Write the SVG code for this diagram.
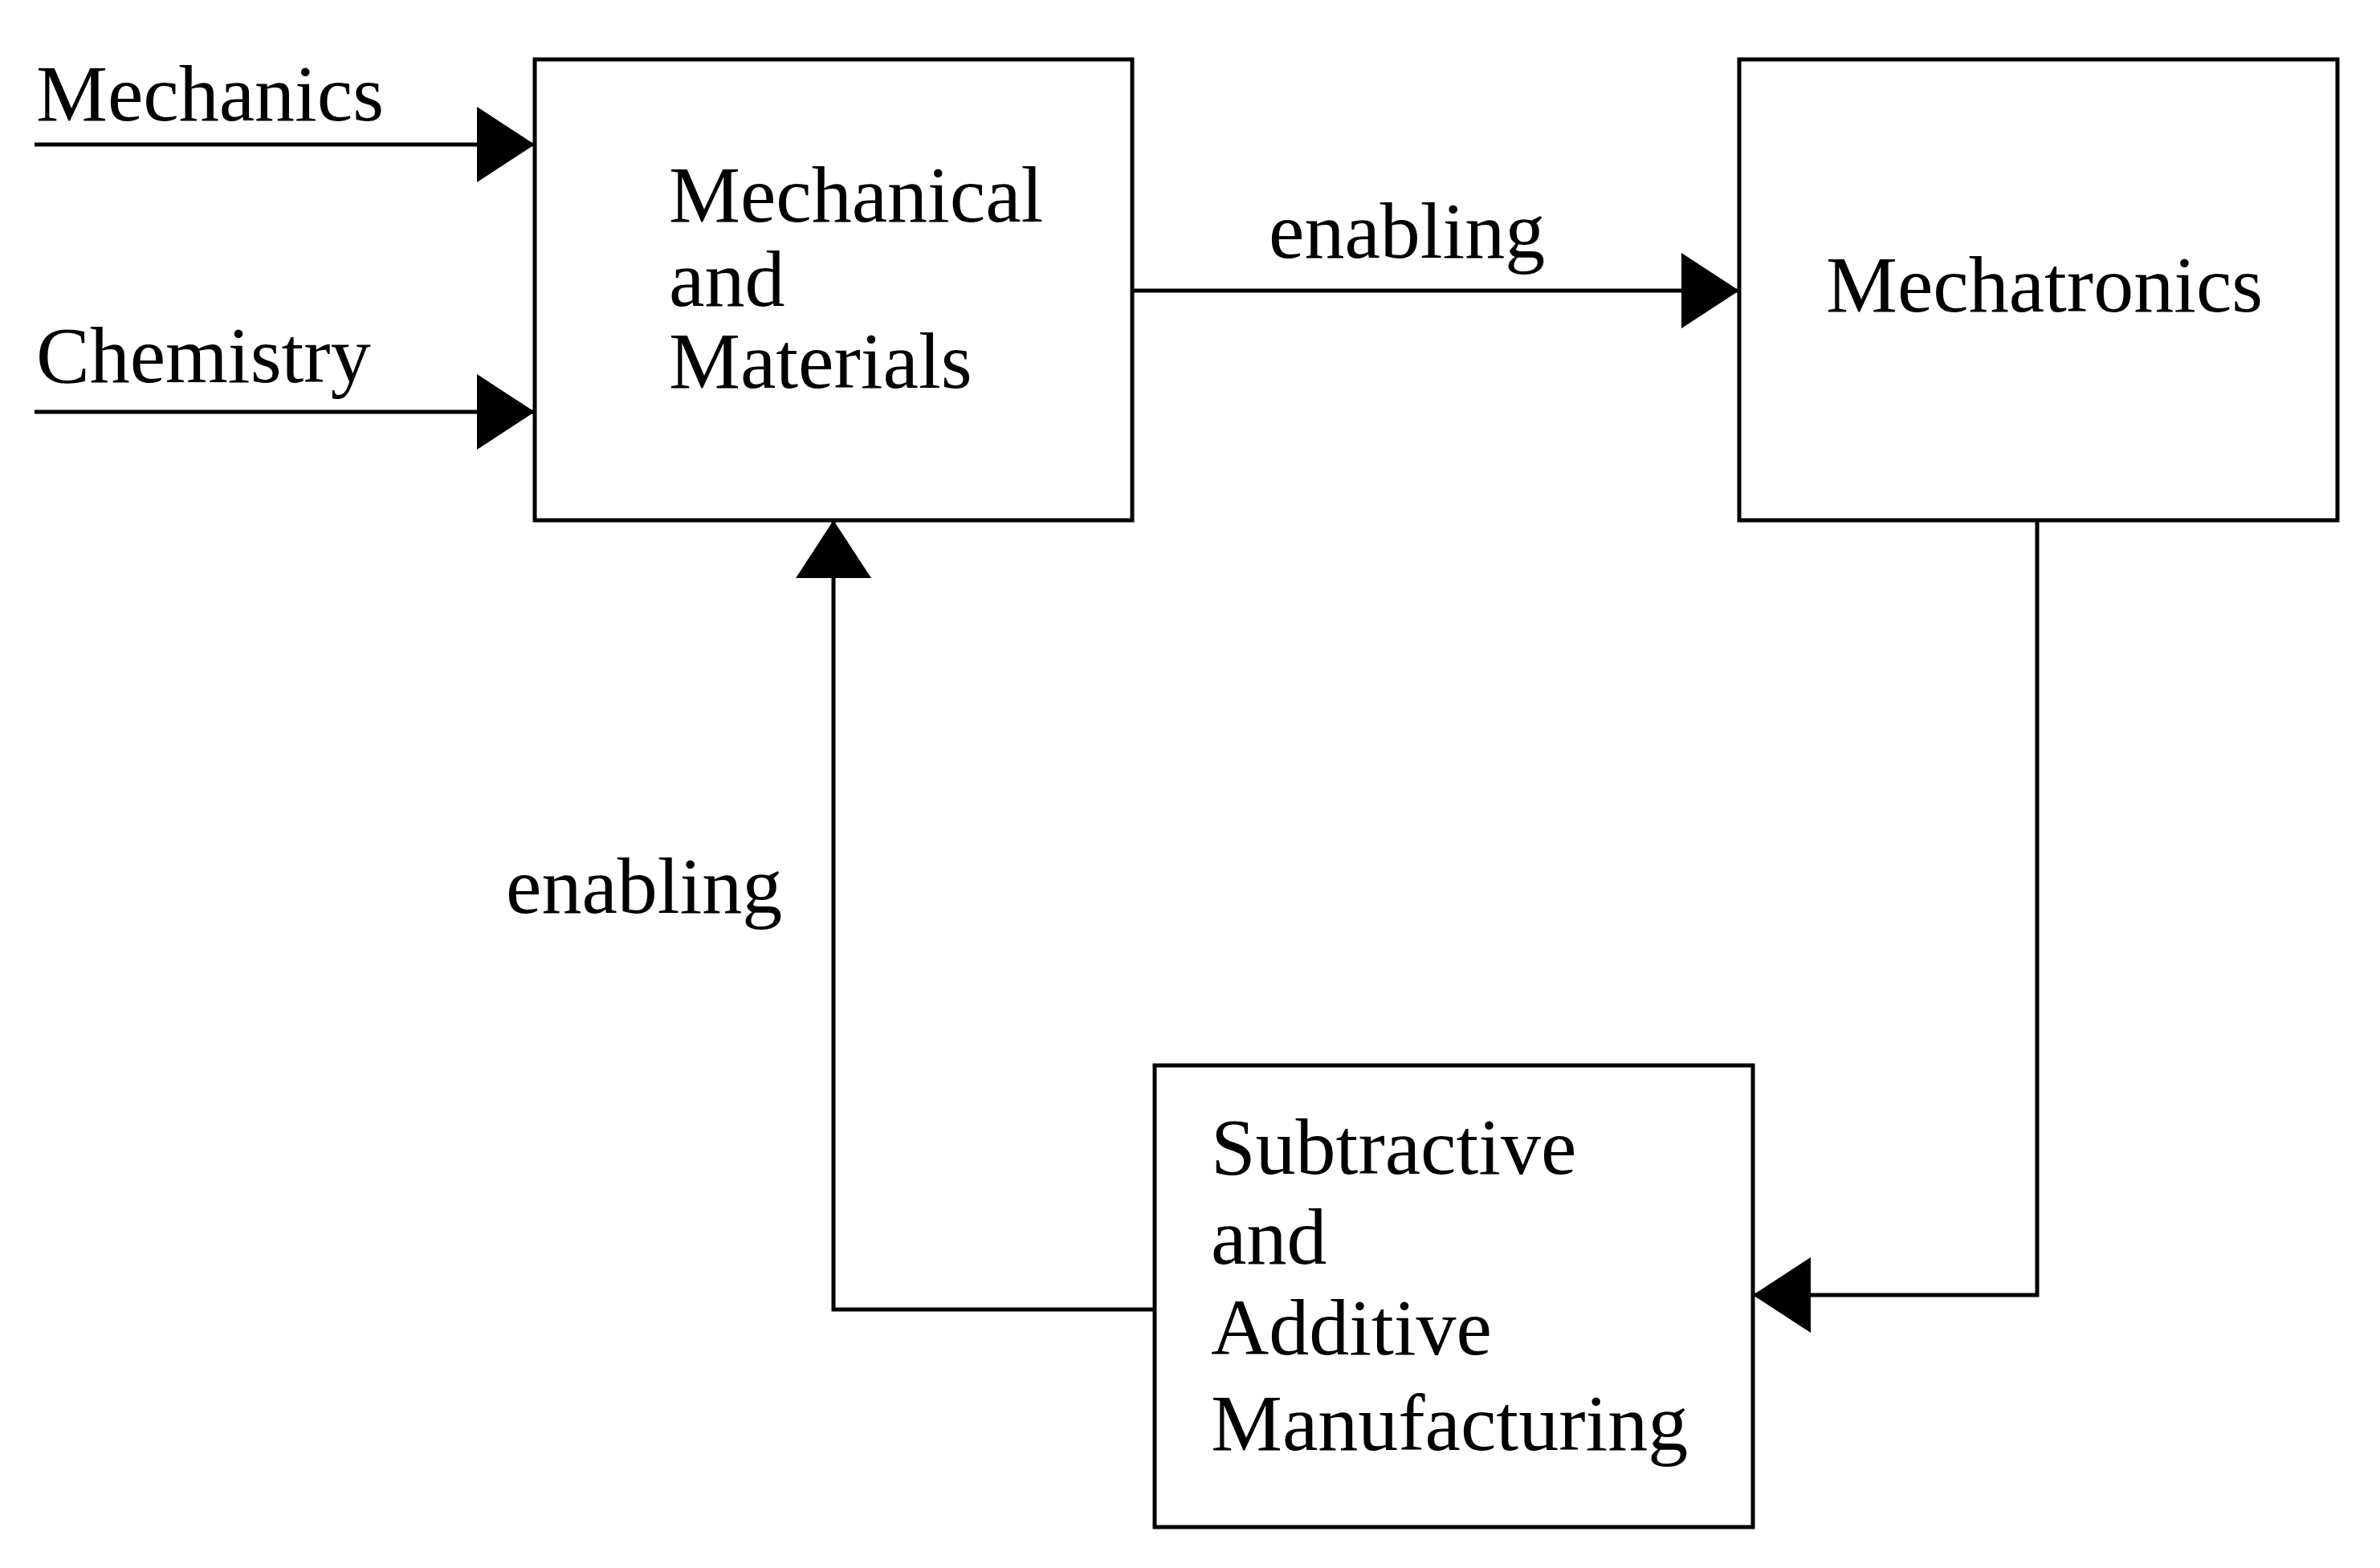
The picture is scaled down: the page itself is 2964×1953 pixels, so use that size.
<svg xmlns="http://www.w3.org/2000/svg" width="2964" height="1953" viewBox="0 0 2964 1953">
<style>
.box{fill:#fff;stroke:#000;stroke-width:5}
.conn{fill:none;stroke:#000;stroke-width:5}
text{font-family:"Liberation Serif","Times New Roman",serif;font-size:100px;fill:#000}
</style>
<defs>
<marker id="arr" viewBox="0 0 72 94" refX="72" refY="47" markerWidth="72" markerHeight="94" markerUnits="userSpaceOnUse" orient="auto">
<path d="M0,0 L72,47 L0,94 Z" fill="#000"/>
</marker>
</defs>
<rect width="2964" height="1953" fill="#fff"/>
<g id="connectors">
<path class="conn" d="M43,180 H666" marker-end="url(#arr)"/>
<path class="conn" d="M43,513 H666" marker-end="url(#arr)"/>
<path class="conn" d="M1410,362 H2166" marker-end="url(#arr)"/>
<path class="conn" d="M2537,648 V1613 H2183" marker-end="url(#arr)"/>
<path class="conn" d="M1438,1631 H1038 V648" marker-end="url(#arr)"/>
<text x="1580" y="321">enabling</text>
<text x="630" y="1137">enabling</text>
</g>
<g id="input-mechanics"><text x="45" y="150">Mechanics</text></g>
<g id="input-chemistry"><text x="45" y="476">Chemistry</text></g>
<g id="node-mechanical-materials">
<rect class="box" x="666" y="74" width="744" height="574"/>
<text x="833" y="276">Mechanical</text>
<text x="833" y="381">and</text>
<text x="833" y="483">Materials</text>
</g>
<g id="node-mechatronics">
<rect class="box" x="2166" y="74" width="745" height="574"/>
<text x="2274" y="388">Mechatronics</text>
</g>
<g id="node-manufacturing">
<rect class="box" x="1438" y="1327" width="745" height="575"/>
<text x="1508" y="1462">Subtractive</text>
<text x="1508" y="1574">and</text>
<text x="1508" y="1687">Additive</text>
<text x="1508" y="1806">Manufacturing</text>
</g>
</svg>
